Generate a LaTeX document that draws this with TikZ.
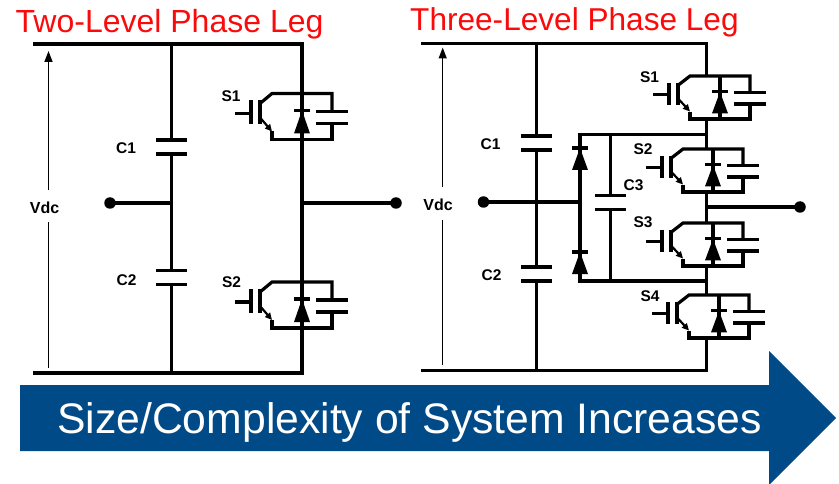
\documentclass[tikz,border=0pt]{standalone}
\usepackage{fontspec}
\setmainfont{Liberation Sans}
\usetikzlibrary{arrows.meta}
\definecolor{titlered}{RGB}{250,10,10}
\definecolor{arrowblue}{RGB}{0,75,135}
\tikzset{
  wire/.style={line width=3.2pt},
  thinwire/.style={line width=1.4pt},
  vdcarrow/.style={thinwire,-{Triangle[length=11pt,width=8pt]}},
  dot/.style={circle,fill,inner sep=0pt,minimum size=11.5pt},
  lbl/.style={inner sep=0pt,font=\fontsize{15.5}{15.5}\selectfont\bfseries},
  ttl/.style={inner sep=0pt,anchor=base west,text=titlered},
  capv/.pic={
    \coordinate (-t) at (0,-7);
    \coordinate (-b) at (0,7);
    \draw[wire] (-15.5,-7) -- (15.5,-7);
    \draw[wire] (-15.5,7) -- (15.5,7);
  },
  clampdiode/.pic={
    \draw[wire] (-8,0) -- (8,0);
    \fill (0,0) -- (-8,22) -- (8,22) -- cycle;
  },
  igbt/.pic={
    \coordinate (-tl) at (0,0);
    \coordinate (-d) at (30,0);
    \coordinate (-db) at (30,46);
    \draw[wire] (-12,10) -- (0,0) -- (60,0) -- (60,18);
    \draw[wire] (44,18) -- (76,18);
    \draw[wire] (44,30) -- (76,30);
    \draw[wire] (60,30) -- (60,46) -- (0,46) -- (0,38);
    \draw[wire] (30,0) -- (30,46);
    \draw[wire] (22,17) -- (38,17);
    \fill (30,17) -- (22,40) -- (38,40) -- cycle;
    \draw[wire] (-12,7) -- (-12,31);
    \draw[wire] (-21,7) -- (-21,31);
    \draw[wire] (-37,20) -- (-21,20);
    \draw[line width=2.2pt,-{Triangle[length=7pt,width=6.5pt]}] (-12,24) -- (0,38);
  }
}
\begin{document}
\begin{tikzpicture}[x=1pt,y=-1pt]
\useasboundingbox (0,0) rectangle (839,484);

% ---------------- titles
\node[ttl,font=\fontsize{32}{32}\selectfont] (t1) at (15.5,33) {Two-Level Phase Leg};
\node[ttl,font=\fontsize{31.6}{31.6}\selectfont] (t2) at (410,30.5) {Three-Level Phase Leg};

% ================= two-level =================
\coordinate (Ltl) at (33,44);
\coordinate (Ltr) at (302,44);
\coordinate (Lbl) at (33,373);
\coordinate (Lbr) at (302,373);
\coordinate (Lct) at (171.5,44);
\coordinate (Lcb) at (171.5,373);
\coordinate (Lmid) at (171.5,203);
\coordinate (Lout) at (302,203);
\pic (LS1) at (272,93.5) {igbt};
\pic (LS2) at (272,282) {igbt};
\pic (LC1) at (171.5,147) {capv};
\pic (LC2) at (171.5,277.5) {capv};
\draw[wire] (Ltl) -- (Ltr) -- (LS1-d);
\draw[wire] (LS1-db) -- (LS2-d);
\draw[wire] (LS2-db) -- (Lbr) -- (Lbl);
\draw[wire] (Lct) -- (LC1-t);
\draw[wire] (LC1-b) -- (LC2-t);
\draw[wire] (LC2-b) -- (Lcb);
\node[dot] (Ldot) at (110,203) {};
\node[dot] (Lodot) at (396,203) {};
\draw[wire] (Ldot.center) -- (Lmid);
\draw[wire] (Lout) -- (Lodot.center);
% Vdc
\coordinate (LVb) at (48.5,368);
\coordinate (LVg1) at (48.5,222.5);
\coordinate (LVg2) at (48.5,190);
\coordinate (LVt) at (48.5,51);
\draw[thinwire] (LVb) -- (LVg1);
\draw[vdcarrow] (LVg2) -- (LVt);
\node[lbl,font=\fontsize{16}{16}\selectfont\bfseries] (LVdc) at (44.5,208) {Vdc};
\node[lbl] (LC1l) at (126,148) {C1};
\node[lbl] (LC2l) at (126.5,280) {C2};
\node[lbl] (LS1l) at (231,96.5) {S1};
\node[lbl] (LS2l) at (231.5,282.5) {S2};

% ================= three-level =================
\coordinate (Rtl) at (421,43.5);
\coordinate (Rtr) at (706.5,43.5);
\coordinate (Rbl) at (421,370.5);
\coordinate (Rbr) at (706.5,370.5);
\coordinate (Rct) at (536.5,43.5);
\coordinate (Rcb) at (536.5,370.5);
\coordinate (RS1t) at (706.5,76);
\coordinate (RS1b) at (706.5,119);
\coordinate (RS2t) at (706.5,149);
\coordinate (RS2b) at (706.5,192);
\coordinate (RS3t) at (706.5,223);
\coordinate (RS3b) at (706.5,266);
\coordinate (RS4t) at (706.5,295);
\coordinate (RS4b) at (706.5,338);
\coordinate (RKt) at (580,134.5);
\coordinate (RKb) at (580,281);
\coordinate (RKtr) at (706.5,134.5);
\coordinate (RKbr) at (706.5,281);
\coordinate (RKm) at (580,202);
\coordinate (RC3t) at (610.5,134.5);
\coordinate (RC3b) at (610.5,281);
\coordinate (Rout) at (706.5,207);
\pic[yscale=0.935] (RS1) at (690,76) {igbt};
\pic[yscale=0.935] (RS2) at (683,149) {igbt};
\pic[yscale=0.935] (RS3) at (683,223) {igbt};
\pic[yscale=0.935] (RS4) at (689,295) {igbt};
\pic (RC1) at (536.5,143) {capv};
\pic (RC2) at (536.5,274) {capv};
\pic (RC3) at (610.5,202.2) {capv};
\pic (RD1) at (580,148) {clampdiode};
\pic (RD2) at (580,252) {clampdiode};
\draw[wire] (Rtl) -- (Rtr) -- (RS1t);
\draw[wire] (RS1b) -- (RS2t);
\draw[wire] (RS2b) -- (RS3t);
\draw[wire] (RS3b) -- (RS4t);
\draw[wire] (RS4b) -- (Rbr) -- (Rbl);
\draw[wire] (Rct) -- (RC1-t);
\draw[wire] (RC1-b) -- (RC2-t);
\draw[wire] (RC2-b) -- (Rcb);
\draw[wire] (RKtr) -- (RKt) -- (RKb) -- (RKbr);
\draw[wire] (RC3t) -- (RC3-t);
\draw[wire] (RC3-b) -- (RC3b);
\node[dot] (Rdot) at (483.5,202) {};
\node[dot] (Rodot) at (800,207) {};
\draw[wire] (Rdot.center) -- (RKm);
\draw[wire] (Rout) -- (Rodot.center);
% Vdc
\coordinate (RVb) at (442.7,365);
\coordinate (RVg1) at (442.7,220);
\coordinate (RVg2) at (442.7,187);
\coordinate (RVt) at (442.7,47.5);
\draw[thinwire] (RVb) -- (RVg1);
\draw[vdcarrow] (RVg2) -- (RVt);
\node[lbl,font=\fontsize{16}{16}\selectfont\bfseries] (RVdc) at (438,204.5) {Vdc};
\node[lbl] (RC1l) at (490.5,144) {C1};
\node[lbl] (RC2l) at (491.5,275.5) {C2};
\node[lbl] (RC3l) at (633.5,185) {C3};
\node[lbl] (RS1l) at (649.5,77) {S1};
\node[lbl] (RS2l) at (643,149) {S2};
\node[lbl] (RS3l) at (643,222.5) {S3};
\node[lbl] (RS4l) at (650,296) {S4};

% ================= big arrow =================
\begin{scope}
\clip (0,0) rectangle (839,484);
\fill[arrowblue] (20,385) -- (769,385) -- (769,351) -- (836,418) -- (769,485) -- (769,451) -- (20,451) -- cycle;
\end{scope}
\node[inner sep=0pt,anchor=base west,text=white,font=\fontsize{42.7}{42.7}\selectfont] (btxt) at (57,433.5) {Size/Complexity of System Increases};
\end{tikzpicture}
\end{document}
